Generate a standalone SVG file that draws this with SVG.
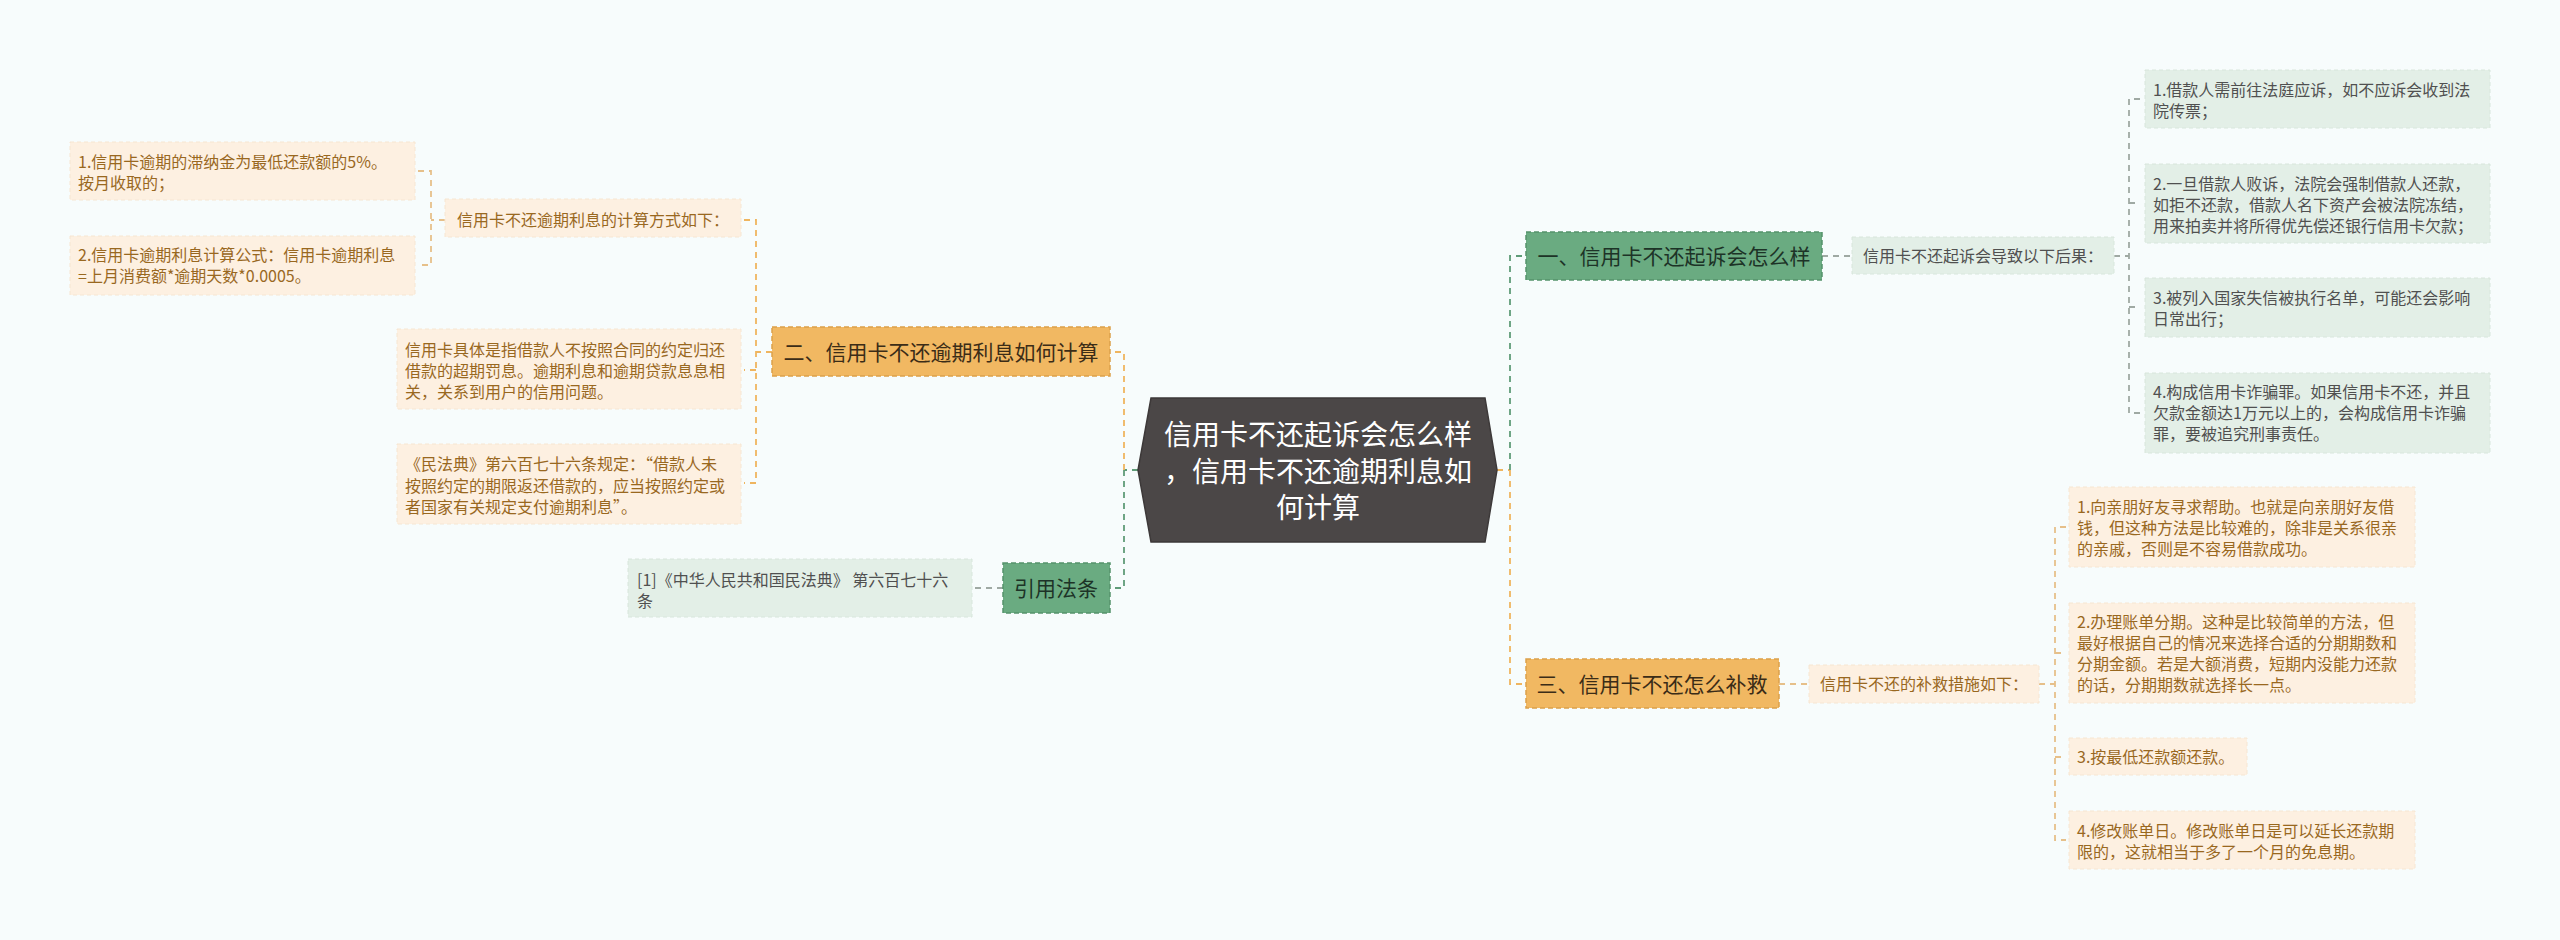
<svg xmlns="http://www.w3.org/2000/svg" width="2560" height="940" viewBox="0 0 2560 940">
<style>
text{font-family:"Noto Sans CJK SC","Noto Sans",sans-serif;}
.hex{fill:#4b4747;stroke:#3d3939;stroke-width:1.5}
.hext{fill:#ffffff;font-size:28px;text-anchor:middle}
.gn{fill:#6aab81;stroke:#55926b;stroke-width:1.5;stroke-dasharray:5,3}
.gnt{fill:#1d3327;font-size:21px;text-anchor:middle}
.on{fill:#f1b862;stroke:#dca04a;stroke-width:1.5;stroke-dasharray:5,3}
.ont{fill:#3b2c17;font-size:21px;text-anchor:middle}
.gl{fill:#e3efe7;stroke:#d8e6dc;stroke-width:1;stroke-dasharray:4,3}
.glt{fill:#505050;font-size:16px}
.ol{fill:#fdf0e1;stroke:#f6e6d2;stroke-width:1;stroke-dasharray:4,3}
.olt{fill:#99681f;font-size:16px}
.c{fill:none;stroke-width:1.8;stroke-dasharray:6,5}
.cg{stroke:#5f9c78}
.co{stroke:#efb55f}
.cgr{stroke:#9fa9a3}
.clo{stroke:#e6c08a}
</style>
<rect width="2560" height="940" fill="#f7fcfc"/>
<g id="connectors">
  <path class="c co" d="M1497,470 H1510"/>
  <path class="c cg" d="M1510,470 V256 H1526"/>
  <path class="c co" d="M1510,470 V684 H1526"/>
  <path class="c cgr" d="M1822,256 H1852"/>
  <path class="c cgr" d="M2114,256 H2129"/>
  <path class="c cgr" d="M2140,99 H2129 V413 H2140 M2129,203 H2140 M2129,307 H2140"/>
  <path class="c clo" d="M1779,684 H1809"/>
  <path class="c clo" d="M2039,684 H2055"/>
  <path class="c clo" d="M2066,527 H2055 V840 H2066 M2055,653 H2066 M2055,757 H2066"/>
  <path class="c cg" d="M1138,470 H1124"/>
  <path class="c co" d="M1124,470 V352 H1110"/>
  <path class="c cg" d="M1124,470 V588 H1110"/>
  <path class="c co" d="M772,352 H756"/>
  <path class="c co" d="M744,220 H756 V483 H744 M756,370 H744"/>
  <path class="c clo" d="M445,220 H431"/>
  <path class="c clo" d="M418,171 H431 V265 H418"/>
  <path class="c cgr" d="M1003,588 H972"/>
</g>
<g id="center">
  <polygon class="hex" points="1138,470 1151,398 1485,398 1497,470 1485,542 1151,542"/>
  <text class="hext"><tspan x="1318" y="445">信用卡不还起诉会怎么样</tspan><tspan x="1318" y="482">，信用卡不还逾期利息如</tspan><tspan x="1318" y="518">何计算</tspan></text>
</g>
<g id="n1">
  <rect class="gn" x="1526" y="232" width="296" height="48"/>
  <text class="gnt" x="1674" y="264">一、信用卡不还起诉会怎么样</text>
</g>
<g id="n1s">
  <rect class="gl" x="1852" y="237" width="262" height="37"/>
  <text class="glt" x="1983" y="262" text-anchor="middle" fill="#333">信用卡不还起诉会导致以下后果：</text>
</g>
<g id="n1a">
  <rect class="gl" x="2145" y="70" width="345" height="58"/>
  <text class="glt"><tspan x="2153" y="96">1.借款人需前往法庭应诉，如不应诉会收到法</tspan><tspan x="2153" y="117">院传票；</tspan></text>
</g>
<g id="n1b">
  <rect class="gl" x="2145" y="164" width="345" height="79"/>
  <text class="glt"><tspan x="2153" y="190">2.一旦借款人败诉，法院会强制借款人还款，</tspan><tspan x="2153" y="211">如拒不还款，借款人名下资产会被法院冻结，</tspan><tspan x="2153" y="232">用来拍卖并将所得优先偿还银行信用卡欠款；</tspan></text>
</g>
<g id="n1c">
  <rect class="gl" x="2145" y="278" width="345" height="59"/>
  <text class="glt"><tspan x="2153" y="304">3.被列入国家失信被执行名单，可能还会影响</tspan><tspan x="2153" y="325">日常出行；</tspan></text>
</g>
<g id="n1d">
  <rect class="gl" x="2145" y="373" width="345" height="80"/>
  <text class="glt"><tspan x="2153" y="398">4.构成信用卡诈骗罪。如果信用卡不还，并且</tspan><tspan x="2153" y="419">欠款金额达1万元以上的，会构成信用卡诈骗</tspan><tspan x="2153" y="440">罪，要被追究刑事责任。</tspan></text>
</g>
<g id="n3">
  <rect class="on" x="1526" y="659" width="253" height="49"/>
  <text class="ont" x="1652" y="692">三、信用卡不还怎么补救</text>
</g>
<g id="n3s">
  <rect class="ol" x="1809" y="665" width="230" height="38"/>
  <text class="olt" x="1924" y="690" text-anchor="middle">信用卡不还的补救措施如下：</text>
</g>
<g id="n3a">
  <rect class="ol" x="2069" y="487" width="346" height="80"/>
  <text class="olt"><tspan x="2077" y="513">1.向亲朋好友寻求帮助。也就是向亲朋好友借</tspan><tspan x="2077" y="534">钱，但这种方法是比较难的，除非是关系很亲</tspan><tspan x="2077" y="555">的亲戚，否则是不容易借款成功。</tspan></text>
</g>
<g id="n3b">
  <rect class="ol" x="2069" y="603" width="346" height="100"/>
  <text class="olt"><tspan x="2077" y="628">2.办理账单分期。这种是比较简单的方法，但</tspan><tspan x="2077" y="649">最好根据自己的情况来选择合适的分期期数和</tspan><tspan x="2077" y="670">分期金额。若是大额消费，短期内没能力还款</tspan><tspan x="2077" y="691">的话，分期期数就选择长一点。</tspan></text>
</g>
<g id="n3c">
  <rect class="ol" x="2069" y="738" width="178" height="37"/>
  <text class="olt" x="2077" y="763">3.按最低还款额还款。</text>
</g>
<g id="n3d">
  <rect class="ol" x="2069" y="811" width="346" height="58"/>
  <text class="olt"><tspan x="2077" y="837">4.修改账单日。修改账单日是可以延长还款期</tspan><tspan x="2077" y="858">限的，这就相当于多了一个月的免息期。</tspan></text>
</g>
<g id="n2">
  <rect class="on" x="772" y="327" width="338" height="49"/>
  <text class="ont" x="941" y="360">二、信用卡不还逾期利息如何计算</text>
</g>
<g id="n2s">
  <rect class="ol" x="445" y="199" width="296" height="38"/>
  <text class="olt" x="593" y="226" text-anchor="middle">信用卡不还逾期利息的计算方式如下：</text>
</g>
<g id="n2s1">
  <rect class="ol" x="70" y="142" width="345" height="58"/>
  <text class="olt"><tspan x="78" y="168">1.信用卡逾期的滞纳金为最低还款额的5%。</tspan><tspan x="78" y="189">按月收取的；</tspan></text>
</g>
<g id="n2s2">
  <rect class="ol" x="70" y="236" width="345" height="59"/>
  <text class="olt"><tspan x="78" y="261">2.信用卡逾期利息计算公式：信用卡逾期利息</tspan><tspan x="78" y="282">=上月消费额*逾期天数*0.0005。</tspan></text>
</g>
<g id="n2a">
  <rect class="ol" x="397" y="329" width="344" height="80"/>
  <text class="olt"><tspan x="405" y="356">信用卡具体是指借款人不按照合同的约定归还</tspan><tspan x="405" y="377">借款的超期罚息。逾期利息和逾期贷款息息相</tspan><tspan x="405" y="398">关，关系到用户的信用问题。</tspan></text>
</g>
<g id="n2b">
  <rect class="ol" x="397" y="444" width="344" height="80"/>
  <text class="olt"><tspan x="405" y="470">《民法典》第六百七十六条规定：“借款人未</tspan><tspan x="405" y="492">按照约定的期限返还借款的，应当按照约定或</tspan><tspan x="405" y="513">者国家有关规定支付逾期利息”。</tspan></text>
</g>
<g id="nref">
  <rect class="gn" x="1003" y="563" width="107" height="50"/>
  <text class="gnt" x="1056" y="596">引用法条</text>
</g>
<g id="nrefa">
  <rect class="gl" x="628" y="559" width="344" height="58"/>
  <text class="glt"><tspan x="637" y="586">[1]《中华人民共和国民法典》 第六百七十六</tspan><tspan x="637" y="607">条</tspan></text>
</g>
</svg>
